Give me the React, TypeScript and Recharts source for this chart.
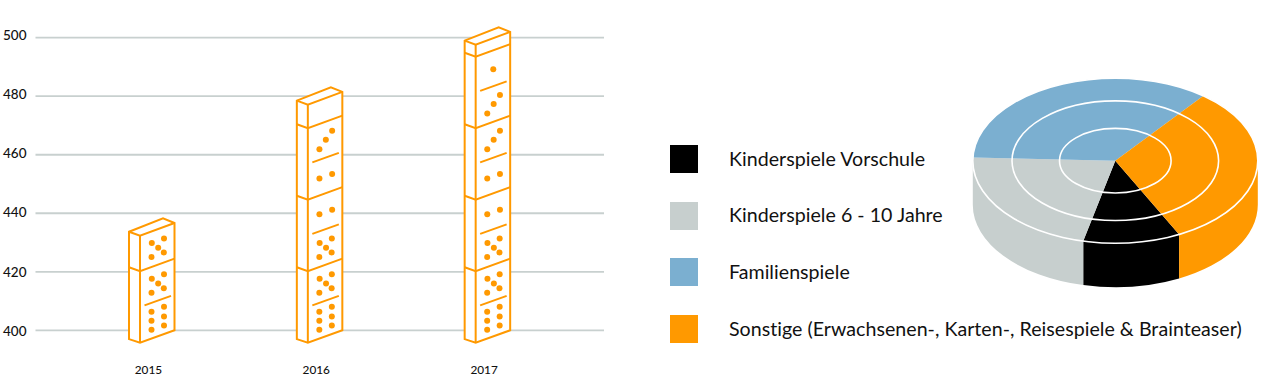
import React from 'react';
import { BarChart, Bar, XAxis, YAxis, CartesianGrid, PieChart, Pie } from 'recharts';

const years = ['2015', '2016', '2017'];
const totals = [433.7, 478.5, 499];
// how many half tiles of the domino column carry pips, per year
const pipHalves = [3, 6, 8];
const yTicks = [400, 420, 440, 460, 480, 500];

const genres = ['Kinderspiele Vorschule', 'Kinderspiele 6 - 10 Jahre', 'Familienspiele', 'Sonstige (Erwachsenen-, Karten-, Reisespiele & Brainteaser)'];
const shares = [11, 22, 35, 32];
const genreColors = ['#000000', '#c7cfce', '#7bafd0', '#ff9900'];

const pipSequence = [6, 5, 5, 2, 2, 3, 3, 1];

const ORANGE = '#ff9900';
const FONT = 'Lato, sans-serif';
const LINE = 2;

const barData = years.map((year, i) => ({ year, total: totals[i], halves: pipHalves[i] }));
const pieData = genres.map((name, i) => ({ name, value: shares[i], fill: genreColors[i] }));

// pip glyphs, dx from the front face's left edge, dy from the bottom of the half tile
const PIPS: Record<number, number[][]> = {
    6: [[11.5, -12.8], [11.5, -21.8], [11.5, -30.8], [24, -17.2], [24, -26.2], [24, -35.8]],
    5: [[11.5, -14.2], [11.8, -28.2], [18.2, -23.4], [23.8, -18.7], [24, -32.7]],
    3: [[11.6, -14.5], [18, -24], [24.3, -33.2]],
    2: [[11.6, -21], [24.3, -25.7]],
    1: [[17.6, -23]],
};

const HALF_TILE = 35.75;

const Domino = (props: any) => {
    const { x, y, height, payload } = props;
    const base = y + height;
    const front = x + 11;
    const right = x + 45.5;
    const bottom = base + 12.3;
    const halves: React.ReactNode[] = [];

    for (let k = 1; k < 10; k++) {
        const yk = bottom - k * HALF_TILE;
        if (k % 2 === 0 && yk > y + 10) {
            halves.push(<polyline key={`b${k}`} points={`${x},${yk - 3.8} ${front},${yk} ${right},${yk - 12.5}`} fill="none" stroke={ORANGE} strokeWidth={LINE} />);
        }
        if (k % 2 === 1 && k < payload.halves) {
            halves.push(<line key={`d${k}`} x1={front + 4.5} y1={yk - 1.5} x2={front + 31} y2={yk - 11} stroke={ORANGE} strokeWidth={LINE} />);
        }
    }

    pipSequence.slice(0, payload.halves).forEach((count, k) => {
        const yk = bottom - k * HALF_TILE;
        PIPS[count].forEach(([dx, dy], i) => {
            halves.push(<circle key={`p${k}-${i}`} cx={front + dx} cy={yk + dy} r={3} fill={ORANGE} />);
        });
    });

    return (
        <g>
            <polygon
                points={`${x},${y} ${x + 34},${y - 13.3} ${right},${y - 8.7} ${right},${base} ${front},${bottom} ${x},${bottom - 3.5}`}
                fill="#fff"
                stroke={ORANGE}
                strokeWidth={LINE}
                strokeLinejoin="miter"
            />
            <polyline points={`${x},${y} ${front},${y + 4} ${right},${y - 8.7}`} fill="none" stroke={ORANGE} strokeWidth={LINE} />
            <line x1={front} y1={y + 4} x2={front} y2={bottom} stroke={ORANGE} strokeWidth={LINE} />
            {halves}
        </g>
    );
};

const YearTick = ({ x, y, payload }: any) => (
    <text x={x - 3.5} y={y + 36} textAnchor="middle" fontFamily={FONT} fontWeight={500} fontSize={11.8} fill="#111">{payload.value}</text>
);

const ValueTick = ({ y, payload }: any) => (
    <text x={3} y={y + 5.5 - (payload.value - 400) * 0.035} fontFamily={FONT} fontWeight={500} fontSize={13.5} fill="#111">{payload.value}</text>
);

// the pie is drawn as a tilted disc
const TILT = 0.579;
const DEPTH = 44;

const onDisc = (cx: number, cy: number, r: number, deg: number) => {
    const a = (deg * Math.PI) / 180;
    return [cx + r * Math.cos(a), cy - r * TILT * Math.sin(a)];
};

const TopSlice = ({ cx, cy, outerRadius: r, startAngle, endAngle, fill }: any) => {
    const [x1, y1] = onDisc(cx, cy, r, startAngle);
    const [x2, y2] = onDisc(cx, cy, r, endAngle);
    const large = Math.abs(endAngle - startAngle) > 180 ? 1 : 0;
    return <path d={`M${cx},${cy} L${x1},${y1} A${r},${r * TILT} 0 ${large} 1 ${x2},${y2} Z`} fill={fill} />;
};

const WallSlice = ({ cx, cy, outerRadius: r, startAngle, endAngle, fill }: any) => {
    const turn = startAngle < -180 ? 360 : 0;
    const hi = Math.min(startAngle + turn, 0);
    const lo = Math.max(endAngle + turn, -180);
    if (hi <= lo) return <g />;
    const [x1, y1] = onDisc(cx, cy, r, hi);
    const [x2, y2] = onDisc(cx, cy, r, lo);
    const ry = r * TILT;
    return <path d={`M${x1},${y1} A${r},${ry} 0 0 1 ${x2},${y2} L${x2},${y2 + DEPTH} A${r},${ry} 0 0 0 ${x1},${y1 + DEPTH} Z`} fill={fill} />;
};

const RING_RADII = [55.8, 103.3, 142.5];
const ringData = [{ name: 'Ringe', value: 1 }];

const Rings = ({ cx, cy }: any) => (
    <g>
        {RING_RADII.map(r => (
            <ellipse key={r} cx={cx} cy={cy} rx={r} ry={r * TILT} fill="none" stroke="#fff" strokeWidth={1.6} />
        ))}
    </g>
);

const App = () => (
    <div style={{ position: 'absolute', left: 0, top: 0, width: 1280, height: 378, background: '#fff', overflow: 'hidden' }}>
        <div style={{ position: 'absolute', left: 0, top: 0 }}>
            <BarChart width={620} height={378} data={barData} margin={{ top: 37.7, right: 16, bottom: 0, left: 0 }}>
                <CartesianGrid vertical={false} stroke="#c8d0cf" strokeWidth={1.8} />
                <XAxis dataKey="year" height={47.7} axisLine={false} tickLine={false} padding={{ left: 32.5, right: 32.5 }} tick={<YearTick />} interval={0} />
                <YAxis domain={[400, 500]} ticks={yTicks} width={35.5} axisLine={false} tickLine={false} tick={<ValueTick />} />
                <Bar dataKey="total" barSize={46} shape={<Domino />} isAnimationActive={false} />
            </BarChart>
        </div>

        {genres.map((name, i) => (
            <div key={name}>
                <div style={{ position: 'absolute', left: 670, top: 145 + i * 56.6, width: 28.3, height: 28.3, background: genreColors[i] }} />
                <div style={{ position: 'absolute', left: 729, top: 144.7 + i * 56.6, height: 28.3, lineHeight: '28.3px', fontFamily: FONT, fontSize: 19.6, letterSpacing: 0.03, color: '#111', whiteSpace: 'nowrap' }}>{name}</div>
            </div>
        ))}

        <div style={{ position: 'absolute', left: 960, top: 70 }}>
            <PieChart width={310} height={225} margin={{ top: 0, right: 0, bottom: 0, left: 0 }}>
                <Pie data={pieData} dataKey="value" nameKey="name" cx={155.3} cy={90.7} outerRadius={142.5} innerRadius={0} startAngle={-63.4} endAngle={-423.4} stroke="none" shape={WallSlice} isAnimationActive={false} />
                <Pie data={pieData} dataKey="value" nameKey="name" cx={155.3} cy={90.7} outerRadius={142.5} innerRadius={0} startAngle={-63.4} endAngle={-423.4} stroke="none" shape={TopSlice} isAnimationActive={false} />
                <Pie data={ringData} dataKey="value" nameKey="name" cx={155.3} cy={90.7} outerRadius={142.5} innerRadius={0} stroke="none" shape={Rings} isAnimationActive={false} />
            </PieChart>
        </div>
    </div>
);

export default App;
